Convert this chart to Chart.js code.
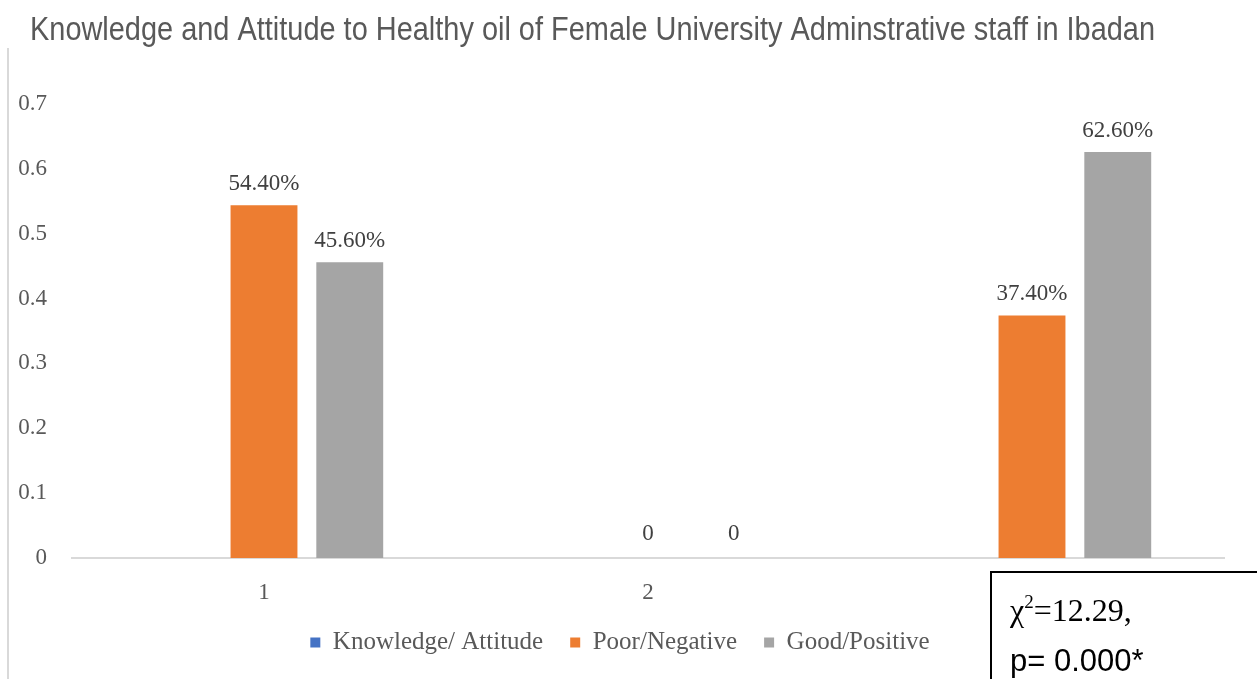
<!DOCTYPE html>
<html>
<head>
<meta charset="utf-8">
<script src="https://cdn.jsdelivr.net/npm/chart.js@4.4.1/dist/chart.umd.min.js"></script>
<style>
  html, body { margin: 0; padding: 0; background: #fff; }
  #wrap { width: 1257px; height: 679px; }
</style>
</head>
<body>
<div id="wrap"><canvas id="myChart"></canvas></div>
<script>
const categories = ["1", "2", "3"];
const knowledgeAttitude = [null, null, null];
const poorNegative = [0.544, 0, 0.374];
const goodPositive = [0.456, 0, 0.626];
const yTicks = [0, 0.1, 0.2, 0.3, 0.4, 0.5, 0.6, 0.7];
const titleText = "Knowledge and Attitude to Healthy oil of Female University Adminstrative staff in Ibadan";
const chiText = "=12.29,";
const pText = "p= 0.000*";

const serif = "'Liberation Serif', 'Times New Roman', serif";

// value labels above each bar
const barLabels = {
  id: "barLabels",
  afterDatasetsDraw(chart) {
    const c = chart.ctx;
    c.save();
    c.font = "23px " + serif;
    c.fillStyle = "#404040";
    c.textAlign = "center";
    c.textBaseline = "bottom";
    chart.data.datasets.forEach((ds, di) => {
      const meta = chart.getDatasetMeta(di);
      meta.data.forEach((bar, idx) => {
        const v = ds.data[idx];
        if (v === null || v === undefined) return;
        const txt = v === 0 ? "0" : (v * 100).toFixed(2) + "%";
        c.fillText(txt, bar.x, bar.y - (v === 0 ? 13 : 10));
      });
    });
    c.restore();
  }
};

// condensed title, left frame line and the chi-square box
const extras = {
  id: "extras",
  beforeDraw(chart) {
    const c = chart.ctx;
    c.save();
    c.strokeStyle = "#d9d9d9";
    c.lineWidth = 2;
    c.beginPath();
    c.moveTo(8, 48);
    c.lineTo(8, 679);
    c.stroke();

    c.font = "34px 'Liberation Sans', Arial, sans-serif";
    c.fillStyle = "#595959";
    c.textBaseline = "middle";
    const w = c.measureText(titleText).width;
    c.translate(30, 31);
    c.scale(1125 / w, 1);
    c.fillText(titleText, 0, 0);
    c.restore();
  },
  afterDraw(chart) {
    const c = chart.ctx;
    c.save();
    c.fillStyle = "#fff";
    c.fillRect(991, 572, 270, 112);
    c.strokeStyle = "#000";
    c.lineWidth = 2;
    c.strokeRect(991, 572, 270, 112);
    c.fillStyle = "#000";
    c.textBaseline = "alphabetic";
    c.font = "32px " + serif;
    c.fillText("\u03c7", 1010, 621);
    let x = 1010 + c.measureText("\u03c7").width;
    c.font = "19px " + serif;
    c.fillText("2", x, 608);
    x += c.measureText("2").width;
    c.font = "32px " + serif;
    c.fillText(chiText, x, 621);
    c.font = "31px 'Liberation Sans', Arial, sans-serif";
    c.fillText(pText, 1010, 671);
    c.restore();
  }
};

const ctx = document.getElementById("myChart");

const chart = new Chart(ctx, {
  type: "bar",
  data: {
    labels: categories,
    datasets: [
      {
        label: "Knowledge/ Attitude",
        data: knowledgeAttitude,
        backgroundColor: "#4472C4",
      },
      {
        label: "Poor/Negative",
        data: poorNegative,
        backgroundColor: "#ED7D31",
      },
      {
        label: "Good/Positive",
        data: goodPositive,
        backgroundColor: "#A5A5A5",
      },
    ],
  },
  options: {
    responsive: true,
    maintainAspectRatio: false,
    animation: false,
    layout: {
      padding: { left: 16, right: 33, top: 104, bottom: 14 },
    },
    datasets: {
      bar: { barPercentage: 0.78, categoryPercentage: 0.67 },
    },
    plugins: {
      title: { display: false },
      legend: {
        position: "bottom",
        labels: {
          boxWidth: 10,
          boxHeight: 10,
          padding: 27,
          color: "#595959",
          font: { family: serif, size: 25 },
        },
      },
      tooltip: { enabled: false },
    },
    scales: {
      x: {
        grid: { display: false },
        border: { display: true, color: "#d9d9d9", width: 2 },
        ticks: { color: "#595959", font: { family: serif, size: 23 }, padding: 13 },
        afterFit(scale) { scale.height = 45; },
      },
      y: {
        min: 0,
        max: 0.7,
        grid: { display: false },
        border: { display: false },
        afterBuildTicks(scale) { scale.ticks = yTicks.map(v => ({ value: v })); },
        ticks: {
          color: "#595959",
          font: { family: serif, size: 23 },
          padding: 17,
          callback: v => (v === 0 ? "0" : v.toFixed(1)),
        },
        afterFit(scale) { scale.width = 56; },
      },
    },
  },
  plugins: [barLabels, extras],
});
</script>
</body>
</html>
